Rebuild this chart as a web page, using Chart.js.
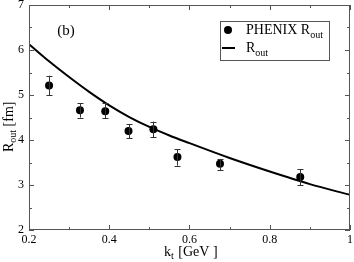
<!DOCTYPE html>
<html>
<head>
<meta charset="utf-8">
<script src="https://cdn.jsdelivr.net/npm/chart.js@4/dist/chart.umd.min.js"></script>
<style>
  html, body { margin: 0; padding: 0; background: #fff; }
  #wrap { width: 354px; height: 262px; }
</style>
</head>
<body>
<div id="wrap"><canvas id="chart" width="354" height="262"></canvas></div>
<script>
// PHENIX data points
const phenixKt = [0.25, 0.327, 0.39, 0.448, 0.51, 0.57, 0.676, 0.876];
const phenixRout = [5.21, 4.66, 4.64, 4.20, 4.24, 3.62, 3.47, 3.18];
const phenixErrHi = [5.43, 4.82, 4.82, 4.35, 4.41, 3.79, 3.58, 3.35];
const phenixErrLo = [5.00, 4.50, 4.48, 4.04, 4.06, 3.43, 3.33, 3.00];

// model curve
const modelKt = [0.2, 0.25, 0.3, 0.35, 0.4, 0.45, 0.5, 0.55, 0.6, 0.7, 0.8, 0.9, 1.0];
const modelRout = [6.13, 5.75, 5.40, 5.07, 4.77, 4.51, 4.29, 4.10, 3.93, 3.60, 3.30, 3.02, 2.78];

const xMajor = [0.2, 0.4, 0.6, 0.8, 1.0];
const yMajor = [2, 3, 4, 5, 6, 7];

const SERIF = '"Liberation Serif", "DejaVu Serif", serif';
const frameColor = '#555';

// inward ticks on all four sides, error bars, titles with subscripts, legend
const decorPlugin = {
    id: 'decor',
    afterDatasetsDraw(chart) {
        const ctx = chart.ctx;
        const xs = chart.scales.x, ys = chart.scales.y;
        const a = chart.chartArea;

        // error bars
        ctx.save();
        ctx.strokeStyle = '#333';
        ctx.lineWidth = 1;
        phenixKt.forEach((kt, i) => {
            const px = Math.round(xs.getPixelForValue(kt)) + 0.5;
            const top = ys.getPixelForValue(phenixErrHi[i]);
            const bot = ys.getPixelForValue(phenixErrLo[i]);
            ctx.beginPath();
            ctx.moveTo(px, top); ctx.lineTo(px, bot);
            ctx.moveTo(px - 3, Math.round(top) + 0.5); ctx.lineTo(px + 3, Math.round(top) + 0.5);
            ctx.moveTo(px - 3, Math.round(bot) + 0.5); ctx.lineTo(px + 3, Math.round(bot) + 0.5);
            ctx.stroke();
        });
        ctx.restore();

        // frame ticks
        ctx.save();
        ctx.strokeStyle = frameColor;
        ctx.lineWidth = 1;
        ctx.beginPath();
        xs.ticks.forEach(t => {
            const major = xMajor.some(v => Math.abs(v - t.value) < 1e-6);
            const len = major ? 5 : 3;
            const px = Math.round(xs.getPixelForValue(t.value)) + 0.5;
            ctx.moveTo(px, a.bottom); ctx.lineTo(px, a.bottom - len);
            ctx.moveTo(px, a.top); ctx.lineTo(px, a.top + len);
        });
        ys.ticks.forEach(t => {
            const major = yMajor.some(v => Math.abs(v - t.value) < 1e-6);
            const len = major ? 5 : 3;
            const py = Math.round(ys.getPixelForValue(t.value)) + 0.5;
            ctx.moveTo(a.left, py); ctx.lineTo(a.left + len, py);
            ctx.moveTo(a.right, py); ctx.lineTo(a.right - len, py);
        });
        ctx.stroke();
        ctx.strokeRect(a.left + 0.5, a.top + 0.5, a.right - a.left - 1, a.bottom - a.top - 1);
        ctx.restore();

        // panel label
        ctx.save();
        ctx.fillStyle = '#000';
        ctx.font = '15px ' + SERIF;
        ctx.textAlign = 'center';
        ctx.textBaseline = 'alphabetic';
        ctx.fillText('(b)', 66, 35);
        ctx.restore();

        // x title: k_t [GeV ]
        ctx.save();
        ctx.fillStyle = '#000';
        ctx.textBaseline = 'alphabetic';
        let x = 164;
        ctx.font = '14px ' + SERIF;
        ctx.fillText('k', x, 256);
        x += ctx.measureText('k').width;
        ctx.font = '10px ' + SERIF;
        ctx.fillText('t', x, 259);
        x += ctx.measureText('t').width + 1;
        ctx.font = '14px ' + SERIF;
        ctx.fillText(' [GeV ]', x, 256);
        ctx.restore();

        // y title: R_out [fm]
        ctx.save();
        ctx.fillStyle = '#000';
        ctx.translate(13, 152);
        ctx.rotate(-Math.PI / 2);
        ctx.textBaseline = 'alphabetic';
        let y = 0;
        ctx.font = '14px ' + SERIF;
        ctx.fillText('R', y, 0);
        y += ctx.measureText('R').width;
        ctx.font = '10px ' + SERIF;
        ctx.fillText('out', y, 3);
        y += ctx.measureText('out').width;
        ctx.font = '14px ' + SERIF;
        ctx.fillText(' [fm]', y, 0);
        ctx.restore();

        // legend
        ctx.save();
        ctx.strokeStyle = frameColor;
        ctx.lineWidth = 1;
        ctx.strokeRect(220.5, 21.5, 109, 39);
        ctx.fillStyle = '#000';
        ctx.beginPath();
        ctx.arc(228, 30, 4, 0, Math.PI * 2);
        ctx.fill();
        ctx.strokeStyle = '#000';
        ctx.lineWidth = 2;
        ctx.beginPath();
        ctx.moveTo(222, 48); ctx.lineTo(235, 48);
        ctx.stroke();
        ctx.textBaseline = 'alphabetic';
        ctx.font = '14px ' + SERIF;
        ctx.fillText('PHENIX R', 246, 34);
        let lx = 246 + ctx.measureText('PHENIX R').width;
        ctx.font = '10px ' + SERIF;
        ctx.fillText('out', lx, 38);
        ctx.font = '14px ' + SERIF;
        ctx.fillText('R', 246, 52);
        lx = 246 + ctx.measureText('R').width;
        ctx.font = '10px ' + SERIF;
        ctx.fillText('out', lx, 56);
        ctx.restore();
    }
};

const ctx = document.getElementById('chart').getContext('2d');
new Chart(ctx, {
    type: 'scatter',
    data: {
        datasets: [
            {
                label: 'R_out',
                data: modelKt.map((k, i) => ({ x: k, y: modelRout[i] })),
                showLine: true,
                borderColor: '#000',
                borderWidth: 2,
                pointRadius: 0,
                cubicInterpolationMode: 'monotone',
                fill: false
            },
            {
                label: 'PHENIX R_out',
                data: phenixKt.map((k, i) => ({ x: k, y: phenixRout[i] })),
                backgroundColor: '#000',
                borderColor: '#000',
                pointRadius: 4,
                pointBorderWidth: 0
            }
        ]
    },
    options: {
        responsive: false,
        animation: false,
        devicePixelRatio: 1,
        layout: { padding: { left: 0, right: 4, top: 5, bottom: 0 } },
        plugins: {
            legend: { display: false },
            tooltip: { enabled: false }
        },
        scales: {
            x: {
                type: 'linear',
                min: 0.2,
                max: 1.0,
                grid: { display: false, drawTicks: false },
                border: { display: false },
                ticks: {
                    stepSize: 0.1,
                    padding: 3,
                    maxRotation: 0,
                    autoSkip: false,
                    color: '#000',
                    font: { family: SERIF, size: 12 },
                    callback: v => {
                        const m = xMajor.find(t => Math.abs(t - v) < 1e-6);
                        return m === undefined ? '' : (m === 1 ? '1' : m.toFixed(1));
                    }
                },
                afterFit: s => { s.height = 32; s.paddingLeft = 0; s.paddingRight = 0; }
            },
            y: {
                type: 'linear',
                min: 2,
                max: 7,
                grid: { display: false, drawTicks: false },
                border: { display: false },
                ticks: {
                    stepSize: 0.5,
                    padding: 5,
                    autoSkip: false,
                    color: '#000',
                    font: { family: SERIF, size: 12 },
                    callback: v => (yMajor.some(t => Math.abs(t - v) < 1e-6) ? String(v) : '')
                },
                afterFit: s => { s.width = 29; s.paddingTop = 0; s.paddingBottom = 0; }
            }
        }
    },
    plugins: [decorPlugin]
});
</script>
</body>
</html>
